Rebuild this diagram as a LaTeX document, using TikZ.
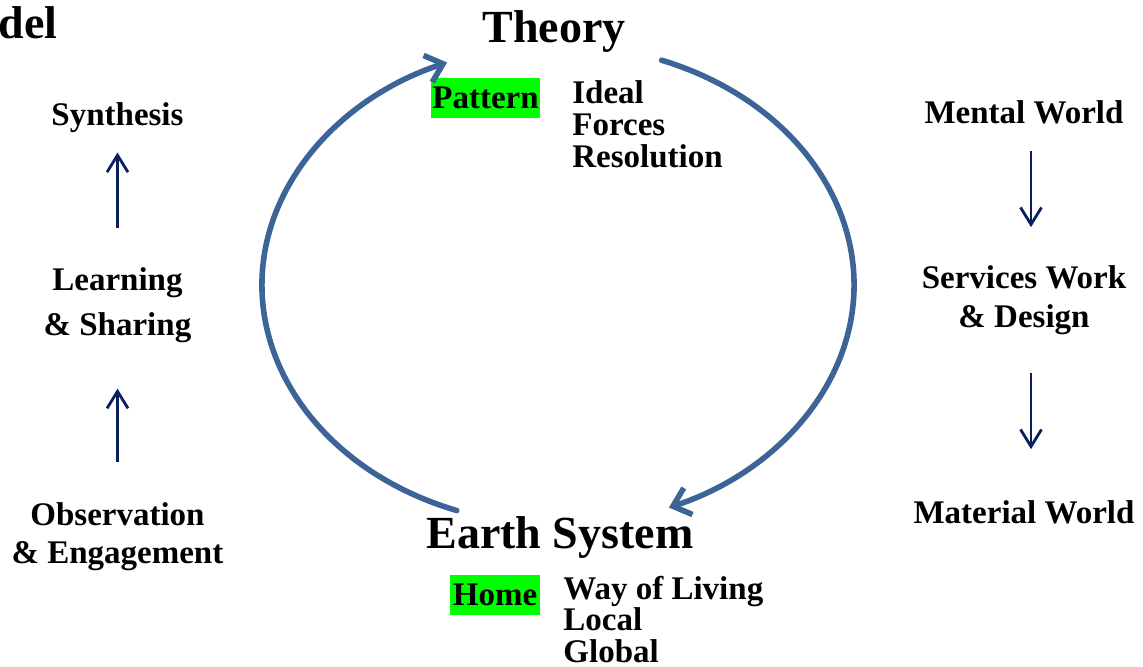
\documentclass[tikz,border=0pt]{standalone}
\usepackage{fontspec}
\setmainfont{Liberation Serif}
\usepackage{xcolor}
\usepackage{tikz}
\usetikzlibrary{arrows.meta,positioning}
\definecolor{CycleBlue}{HTML}{3C6496}
\definecolor{StepNavy}{HTML}{0A1F5C}
\definecolor{TagGreen}{HTML}{00FF00}

\begin{document}
\begin{tikzpicture}[
  x=0.5pt, y=-0.5pt,
  bigtext/.style={inner sep=0pt, font=\bfseries\fontsize{23}{26}\selectfont},
  labeltext/.style={inner sep=0pt, align=center, font=\bfseries\fontsize{16.5}{19}\selectfont},
  listtext/.style={inner sep=0pt, align=left, font=\bfseries\fontsize{16.5}{16}\selectfont},
  tagbox/.style={fill=TagGreen, inner sep=0pt, minimum height=20pt, font=\bfseries\fontsize{16.5}{19}\selectfont},
  cyclearrow/.style={-{Straight Barb[length=8pt,width=14pt]}, line width=2.8pt, draw=CycleBlue, line cap=round},
  steparrow/.style={-{Straight Barb[length=8.5pt,width=10.5pt]}, line width=1.4pt, draw=StepNavy}
]
\useasboundingbox (0,0) rectangle (1143,666);
\node[bigtext, anchor=base east] (model) at (58,38) {del};
\node[bigtext, anchor=base] (theory) at (554,42) {Theory};
\node[bigtext, anchor=base] (earth) at (560,548) {Earth System};
\node[tagbox, minimum width=54.5pt] (pattern) at (485.5,98) {Pattern};
\node[listtext, anchor=base west] (ideal) at (572,167) {Ideal\\Forces\\Resolution};
\node[tagbox, minimum width=45pt] (home) at (495,595) {Home};
\node[listtext, anchor=base west, font=\bfseries\fontsize{16.5}{15.75}\selectfont] (living) at (563,662) {Way of Living\\Local\\Global};
\node[labeltext, anchor=base] (synthesis) at (117.5,125) {Synthesis};
\node[labeltext, anchor=base, font=\bfseries\fontsize{16.5}{22.5}\selectfont] (learning) at (117.5,335) {Learning\\\& Sharing};
\node[labeltext, anchor=base] (observation) at (117.5,563) {Observation\\\& Engagement};
\node[labeltext, anchor=base] (mental) at (1024,123) {Mental World};
\node[labeltext, anchor=base, font=\bfseries\fontsize{16.5}{19.5}\selectfont] (services) at (1024,327) {Services Work\\\& Design};
\node[labeltext, anchor=base] (material) at (1024,523) {Material World};
\draw[steparrow] ([yshift=19.8pt]observation.north) -- ([yshift=-23pt]learning.south);
\draw[steparrow] ([yshift=19.2pt]learning.north) -- ([yshift=-10pt]synthesis.south);
\draw[steparrow] ([xshift=3.5pt,yshift=-13.5pt]mental.south) -- ([xshift=3.5pt,yshift=18.8pt]services.north);
\draw[steparrow] ([xshift=3.5pt,yshift=-19pt]services.south) -- ([xshift=3.5pt,yshift=25.3pt]material.north);
\coordinate (hub) at (558,285);
\path (hub) ++(250:148pt and 120pt) coordinate (earthtail);
\path (hub) ++(69.5:148pt and 120pt) coordinate (theorytail);
\draw[cyclearrow] (earthtail) arc[start angle=250, end angle=112, x radius=148pt, y radius=120pt];
\draw[cyclearrow] (theorytail) arc[start angle=69.5, end angle=-68, x radius=148pt, y radius=120pt];
\end{tikzpicture}
\end{document}
